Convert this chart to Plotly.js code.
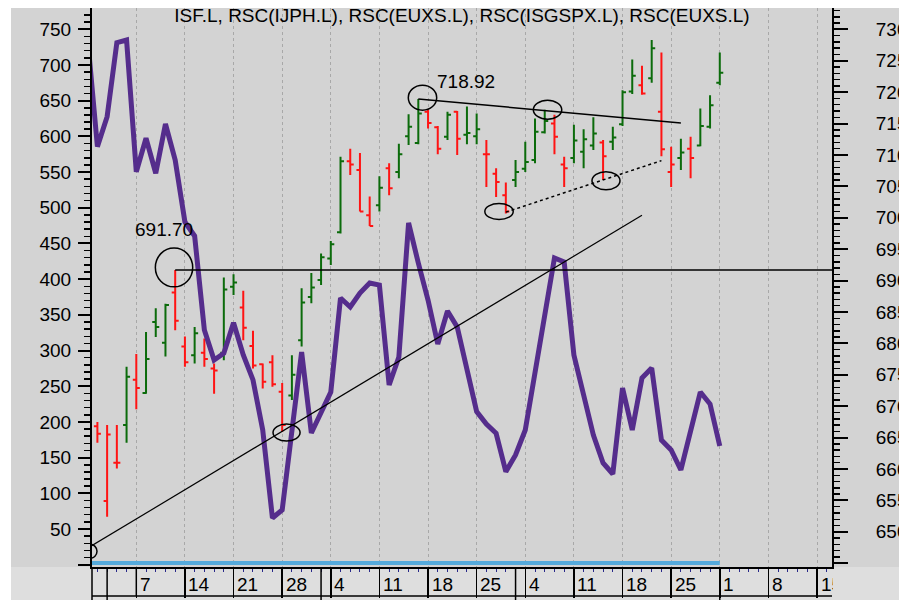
<!DOCTYPE html>
<html><head><meta charset="utf-8">
<script src="https://cdn.plot.ly/plotly-3.0.1.min.js"></script>
<style>
html,body{margin:0;padding:0;background:#fff;overflow:hidden;width:899px;height:600px;}
#chart{position:absolute;left:11px;top:8px;width:888px;height:600px;}
</style></head><body><div id="chart"></div>
<script>
// ---- data -------------------------------------------------------------
const chartTitle = 'ISF.L, RSC(IJPH.L), RSC(EUXS.L), RSC(ISGSPX.L), RSC(EUXS.L)';
// trading days on the axis (index = x position)
const dates = ['2018-12-28','2018-12-31','2019-01-02','2019-01-03','2019-01-04',
 '2019-01-07','2019-01-08','2019-01-09','2019-01-10','2019-01-11',
 '2019-01-14','2019-01-15','2019-01-16','2019-01-17','2019-01-18',
 '2019-01-21','2019-01-22','2019-01-23','2019-01-24','2019-01-25',
 '2019-01-28','2019-01-29','2019-01-30','2019-01-31','2019-02-01',
 '2019-02-04','2019-02-05','2019-02-06','2019-02-07','2019-02-08',
 '2019-02-11','2019-02-12','2019-02-13','2019-02-14','2019-02-15',
 '2019-02-18','2019-02-19','2019-02-20','2019-02-21','2019-02-22',
 '2019-02-25','2019-02-26','2019-02-27','2019-02-28','2019-03-01',
 '2019-03-04','2019-03-05','2019-03-06','2019-03-07','2019-03-08',
 '2019-03-11','2019-03-12','2019-03-13','2019-03-14','2019-03-15',
 '2019-03-18','2019-03-19','2019-03-20','2019-03-21','2019-03-22',
 '2019-03-25','2019-03-26','2019-03-27','2019-03-28','2019-03-29',
 '2019-04-01','2019-04-02','2019-04-03','2019-04-04','2019-04-05',
 '2019-04-08','2019-04-09','2019-04-10','2019-04-11','2019-04-12',
 '2019-04-15','2019-04-16','2019-04-17','2019-04-18'];

// ISF.L daily bars, 2018-12-31 .. 2019-04-01 (right axis)
const priceOpen = [666.8,654.9,661.0,667.0,674.2, 672.1,683.4,680.1,688.1,679.5,
 678.1,678.5,676.0,678.5,689.0, 685.7,679.6,676.7,677.0,672.3,
 671.7,680.5,687.4,690.1,693.5, 697.7,709.0,707.6,700.4,702.0,
 707.9,707.3,713.0,711.9,716.9, 714.4,712.9,716.9,713.2,713.0,
 710.1,707.0,703.6,706.0,707.8, 709.2,713.6,715.0,708.5,709.5,
 710.5,711.5,712.0,712.1,714.9, 720.1,721.1,722.2,716.9,707.3,
 709.5,711.0,711.5,714.5,721.5];
const priceHigh = [667.5,667.0,667.0,676.3,678.3, 681.8,685.6,686.3,691.70,681.1,
 682.6,680.8,676.8,690.5,691.0, 688.4,682.0,676.8,678.1,673.7,
 678.1,688.8,691.2,694.3,696.3, 709.7,711.0,710.3,703.4,706.6,
 708.7,711.8,716.5,718.92,717.2, 714.6,716.9,717.0,717.7,716.6,
 712.4,707.9,705.6,709.2,712.1, 715.8,717.2,716.4,709.7,714.8,
 714.1,716.0,712.4,714.5,720.3, 725.2,724.2,728.3,726.3,711.3,
 712.6,712.9,717.4,719.5,726.3];
const priceLow = [664.2,652.4,660.1,664.2,669.5, 672.0,681.0,677.9,682.1,676.3,
 676.8,676.3,672.0,677.3,687.7, 680.5,676.0,672.8,673.1,665.9,
 671.0,679.5,686.4,689.3,692.5, 697.5,706.8,701.0,698.7,701.0,
 703.6,706.3,711.6,711.7,714.2, 710.1,712.4,710.0,711.7,711.7,
 704.9,703.3,700.7,704.9,707.3, 708.7,713.4,710.1,704.9,708.7,
 707.9,710.8,706.0,710.8,714.6, 719.7,719.6,721.5,709.8,704.9,
 707.6,706.3,711.4,714.2,721.1];
const priceClose = [665.6,665.5,661.0,674.7,672.9, 677.5,682.6,686.1,683.6,677.0,
 681.6,677.5,675.7,688.6,689.7, 682.5,676.5,673.9,673.5,667.0,
 675.0,686.5,688.9,693.7,695.8, 709.0,708.5,701.0,698.7,704.8,
 704.7,710.1,714.5,716.6,715.1, 711.0,716.4,712.6,713.5,714.1,
 710.1,705.7,701.0,707.3,708.9, 713.7,715.4,712.9,707.9,712.3,
 712.5,713.4,709.8,712.8,720.0, 722.6,719.8,727.0,710.9,708.5,
 710.4,709.5,714.6,717.9,723.1];
// bar colour as drawn (u = green, d = red), groups of five bars
const barDir = 'dddud uuudd udduu ddddd uuuuu udddu duuud duduu ddduu uuddu uuduu ududd uduuu'.replace(/ /g,'');

// relative strength line, 2018-12-28 .. 2019-04-01 (left axis)
const rsc = [736.7,585.6,627.6,731.2,735.0,550.5,597.3,548.3,617.3,566.9,480.1,
 460.5,328.8,286.8,296.2,339.0,293.8,258.8,188.7,65.4,76.6,
 188.7,298.0,184.5,212.5,241.9,373.6,361.0,380.6,394.6,391.8,
 251.7,290.9,478.7,422.6,370.8,309.2,355.4,333.0,270.0,214.4,
 197.1,184.1,130.3,153.7,188.7,270.0,349.8,429.7,424.1,293.8,
 237.7,181.7,142.5,127.1,247.5,188.7,261.6,275.6,174.7,160.7,
 132.7,188.7,241.9,225.1,166.3];
// flat light-blue series along the bottom (left axis)
const baseX = ['2018-12-28','2019-04-01'];
const baseY = [2.4, 2.4];

const leftTicks = [0,50,100,150,200,250,300,350,400,450,500,550,600,650,700,750];
const rightTicks = [645,650,655,660,665,670,675,680,685,690,695,700,705,710,715,720,725,730];

// ---- build ------------------------------------------------------------
const FS = 19;
const xi = d => dates.indexOf(d);
const priceX = priceOpen.map((_, k) => k + 1);
const rscX = rsc.map((_, k) => k);

function pick(arr, dir){ return arr.filter((_, k) => barDir[k] === dir); }
const upX = priceX.filter((_, k) => barDir[k] === 'u');
const dnX = priceX.filter((_, k) => barDir[k] === 'd');

const GREEN = '#0b6b0b', RED = '#ff1414';
function ohlcTrace(x, dir, col){
  return {type:'ohlc', x:x, open:pick(priceOpen,dir), high:pick(priceHigh,dir),
    low:pick(priceLow,dir), close:pick(priceClose,dir), xaxis:'x', yaxis:'y',
    tickwidth:0.36, hoverinfo:'skip',
    increasing:{line:{color:col, width:2}}, decreasing:{line:{color:col, width:2}}};
}
const traces = [
  ohlcTrace(upX,'u',GREEN),
  ohlcTrace(dnX,'d',RED),
  {type:'scatter', mode:'lines', x:baseX.map(xi), y:baseY, yaxis:'y2',
   line:{color:'#55aadc', width:4}, hoverinfo:'skip'},
  {type:'scatter', mode:'lines', x:rscX, y:rsc, yaxis:'y2',
   line:{color:'#552d8c', width:5}, hoverinfo:'skip'}
];

// axis week / month structure from the dates
const mondays = [], monthStarts = [];
dates.forEach((d, k) => {
  const dt = new Date(d + 'T12:00:00Z');
  if (dt.getUTCDay() === 1) mondays.push(k);
  if (k > 0 && d.slice(5,7) !== dates[k-1].slice(5,7)) monthStarts.push(k);
});
const gridMondays = mondays.filter(k => k > 1);
const xRange = [0.445, 76.54];

const BAND = -0.0519;
const shapes = [
  {type:'rect', xref:'paper', yref:'paper', x0:-0.2, x1:1.2, y0:-0.3, y1:0,
   fillcolor:'#dedede', line:{width:0}, layer:'below'},
  {type:'line', xref:'paper', yref:'paper', x0:0, x1:1, y0:BAND, y1:BAND, line:{color:'#000', width:1.5}},
  {type:'line', xref:'paper', yref:'paper', x0:0, x1:0, y0:0, y1:-0.2, line:{color:'#000', width:1.5}},
  {type:'line', xref:'x', yref:'paper', x0:mondays[1], x1:mondays[1], y0:0, y1:BAND, line:{color:'#000', width:1.5}}
];
monthStarts.forEach(k => shapes.push({type:'line', xref:'x', yref:'paper', x0:k, x1:k, y0:0, y1:-0.2,
  line:{color:'#000', width:1.5}}));

// chart drawings (anchored on bars)
const P = k => k + 1;              // bar k -> x position
const hiA = 8, hiB = 33, hiC = 46, loA = 42, loB = 52, loC = 19;
const drawLine = {color:'#000', width:1.5};
shapes.push(
  {type:'line', xref:'x', yref:'y', x0:P(hiA), x1:80, y0:priceHigh[hiA], y1:priceHigh[hiA], line:drawLine, layer:'above'},
  {type:'line', xref:'x', yref:'y', x0:P(hiB), x1:P(60), y0:priceHigh[hiB], y1:715.1, line:drawLine, layer:'above'},
  {type:'line', xref:'x', yref:'y', x0:P(loA), x1:P(58), y0:700.9, y1:709.1, line:{color:'#000', width:1.5, dash:'dot'}, layer:'above'},
  {type:'line', xref:'x', yref:'y', x0:0, x1:P(56), y0:647.4, y1:700.4, line:{color:'#000', width:1.2}, layer:'above'}
);
function ell(cx, cy, rx, ry){
  return {type:'circle', xref:'x', yref:'y', x0:cx-rx, x1:cx+rx, y0:cy-ry, y1:cy+ry,
    line:{color:'#000', width:1.5}, fillcolor:'rgba(0,0,0,0)', layer:'above'};
}
shapes.push(
  ell(P(hiA)-0.12, priceHigh[hiA]+0.4, 1.92, 3.1),
  ell(P(hiB)+0.43, priceHigh[hiB]+0.2, 1.46, 1.99),
  ell(P(hiC)+0.29, priceHigh[hiC], 1.46, 1.51),
  ell(P(loA)-0.7, priceLow[loA]+0.3, 1.46, 1.27),
  ell(P(loB)+0.3, priceLow[loB]-0.1, 1.44, 1.43),
  ell(P(loC)+0.45, priceLow[loC]-0.1, 1.39, 1.35),
  ell(0.24, 646.9, 0.72, 1.11)
);

const annotations = [
  {xref:'x', yref:'y', x:P(hiA), y:priceHigh[hiA], text:priceHigh[hiA].toFixed(2), showarrow:false,
   xanchor:'center', yanchor:'middle', xshift:-10.7, yshift:40, font:{size:FS, color:'#000'}},
  {xref:'x', yref:'y', x:P(hiB), y:priceHigh[hiB], text:priceHigh[hiB].toFixed(2), showarrow:false,
   xanchor:'center', yanchor:'middle', xshift:48, yshift:17, font:{size:FS, color:'#000'}}
];
gridMondays.forEach(k => {
  const a = {xref:'x', yref:'paper', x:k, y:-0.0313, text:String(Number(dates[k].slice(8,10))),
    showarrow:false, xanchor:'left', yanchor:'middle', xshift:1.5, align:'left', font:{size:FS, color:'#000'}};
  const roomPx = (xRange[1] - k) * 9.724 - 3;
  if (roomPx < 30) { a.width = Math.max(4, roomPx); }
  annotations.push(a);
});

const layout = {
  width:888, height:600,
  margin:{l:81, r:67, t:0, b:41, pad:0},
  paper_bgcolor:'#d3d3d3', plot_bgcolor:'#d3d3d3',
  showlegend:false,
  font:{family:'"Liberation Sans", Arial, sans-serif', size:FS, color:'#000'},
  title:{text:chartTitle, x:0.5, xref:'paper', xanchor:'center', y:0.988, yref:'container', yanchor:'middle',
    font:{size:FS, color:'#000'}},
  xaxis:{range:xRange, tickmode:'array', tickvals:gridMondays, showticklabels:false,
    ticks:'outside', ticklen:29, tickwidth:1.5, tickcolor:'#000',
    showline:true, linecolor:'#000', linewidth:2, mirror:false,
    showgrid:true, gridcolor:'#a8a8a8', griddash:'dot', gridwidth:1, zeroline:false,
    rangeslider:{visible:false}, fixedrange:true,
    minor:{tickmode:'linear', tick0:0, dtick:1, ticks:'outside', ticklen:3, tickwidth:1, tickcolor:'#2a2a8a', showgrid:false}},
  yaxis:{side:'right', range:[644.4, 733.4], tickmode:'array', tickvals:rightTicks,
    ticktext:rightTicks.map(v => v === 645 ? '' : String(v)),
    ticks:'outside', ticklen:14, tickwidth:2, tickcolor:'#000', ticklabelstandoff:24,
    showline:true, linecolor:'#000', linewidth:2, showgrid:false, zeroline:false, fixedrange:true,
    tickfont:{size:FS},
    minor:{tickmode:'linear', tick0:0, dtick:1, ticks:'outside', ticklen:6, tickwidth:1.5, tickcolor:'#000', showgrid:false}},
  yaxis2:{overlaying:'y', side:'left', range:[-3.2, 779.8], tickmode:'array', tickvals:leftTicks,
    ticktext:leftTicks.map(v => v === 0 ? '' : String(v)),
    ticks:'outside', ticklen:12, tickwidth:2, tickcolor:'#000', ticklabelstandoff:3,
    showline:true, linecolor:'#000', linewidth:2, showgrid:false, zeroline:false, fixedrange:true,
    tickfont:{size:FS},
    minor:{tickmode:'linear', tick0:0, dtick:10, ticks:'outside', ticklen:6, tickwidth:1.5, tickcolor:'#000', showgrid:false}},
  shapes:shapes,
  annotations:annotations
};

Plotly.newPlot('chart', traces, layout, {displayModeBar:false, staticPlot:true});
</script>
</body></html>
